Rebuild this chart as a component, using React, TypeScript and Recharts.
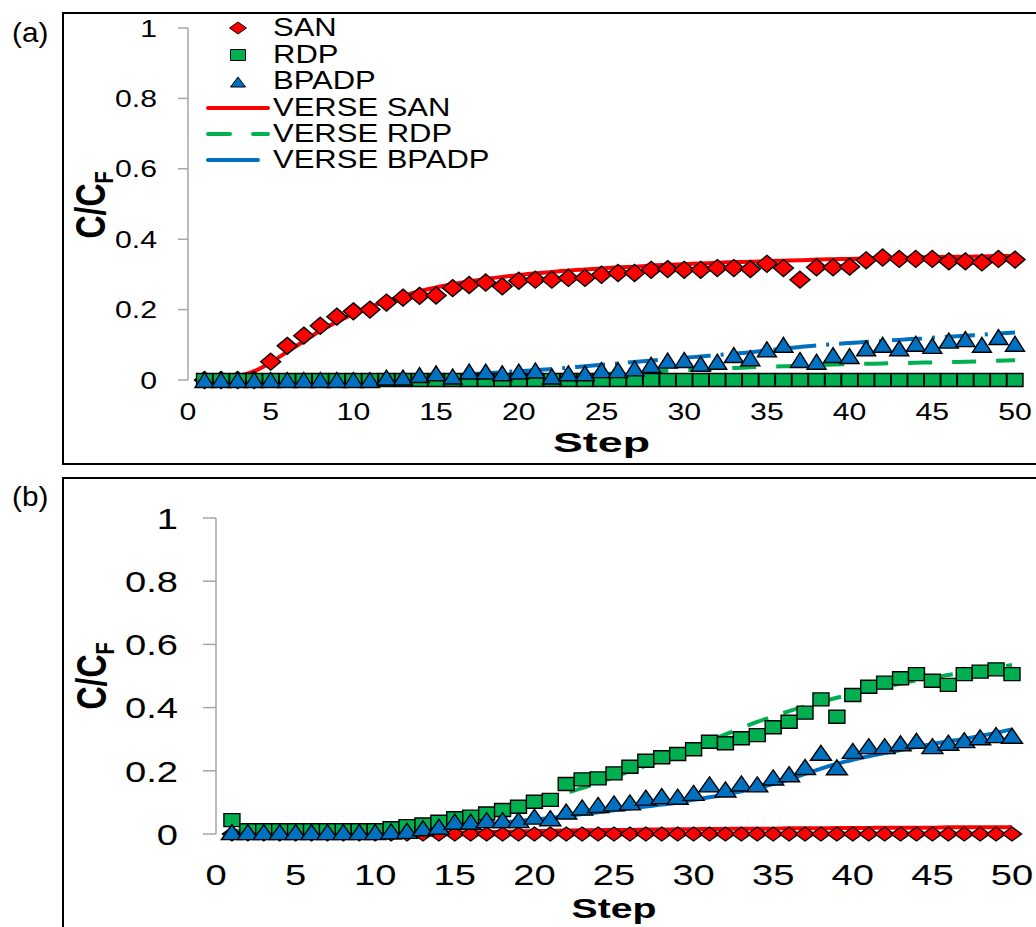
import React from 'react';
import { ComposedChart, Line, Scatter, XAxis, YAxis, Legend, Label } from 'recharts';

// ---------- data ----------
const STEPS = [1, 2, 3, 4, 5, 6, 7, 8, 9, 10, 11, 12, 13, 14, 15, 16, 17, 18, 19, 20, 21, 22, 23, 24, 25, 26, 27, 28, 29, 30, 31, 32, 33, 34, 35, 36, 37, 38, 39, 40, 41, 42, 43, 44, 45, 46, 47, 48, 49, 50];
const X_TICKS = [0, 5, 10, 15, 20, 25, 30, 35, 40, 45, 50];
const Y_TICKS = [0, 0.2, 0.4, 0.6, 0.8, 1];
const SERIES_NAMES = ['SAN', 'RDP', 'BPADP', 'VERSE SAN', 'VERSE RDP', 'VERSE BPADP'];
const PANEL_LABELS = ['(a)', '(b)'];
const X_TITLE = 'Step';

// Panel (a)
const A_SAN = [0, 0, 0, 0, 0.052, 0.097, 0.126, 0.154, 0.18, 0.195, 0.2, 0.22, 0.234, 0.239, 0.24, 0.261, 0.27, 0.277, 0.266, 0.282, 0.285, 0.285, 0.29, 0.29, 0.299, 0.304, 0.304, 0.313, 0.315, 0.313, 0.313, 0.318, 0.318, 0.315, 0.33, 0.318, 0.285, 0.32, 0.32, 0.322, 0.34, 0.348, 0.344, 0.344, 0.344, 0.337, 0.337, 0.334, 0.344, 0.342];
const A_RDP = [0, 0, 0, 0, 0, 0, 0, 0, 0, 0, 0, 0, 0, 0, 0, 0, 0, 0, 0, 0, 0, 0, 0, 0, 0, 0, 0, 0, 0, 0, 0, 0, 0, 0, 0, 0, 0, 0, 0, 0, 0, 0, 0, 0, 0, 0, 0, 0, 0, 0];
const A_BPADP = [0, 0, 0, 0, 0, 0, 0, 0, 0, 0, 0, 0.007, 0.007, 0.014, 0.019, 0.01, 0.024, 0.024, 0.019, 0.024, 0.027, 0.01, 0.019, 0.019, 0.028, 0.028, 0.033, 0.043, 0.055, 0.057, 0.046, 0.052, 0.071, 0.062, 0.087, 0.1, 0.057, 0.052, 0.071, 0.068, 0.09, 0.1, 0.09, 0.103, 0.097, 0.112, 0.116, 0.1, 0.122, 0.103];
const A_VERSE_SAN = [0, 0, 0.01, 0.025, 0.05, 0.08, 0.11, 0.14, 0.165, 0.188, 0.207, 0.224, 0.239, 0.252, 0.263, 0.272, 0.28, 0.287, 0.293, 0.298, 0.303, 0.307, 0.311, 0.314, 0.317, 0.32, 0.322, 0.325, 0.327, 0.329, 0.331, 0.333, 0.335, 0.336, 0.338, 0.339, 0.34, 0.342, 0.343, 0.344, 0.345, 0.346, 0.347, 0.348, 0.349, 0.35, 0.35, 0.351, 0.352, 0.352];
const A_VERSE_RDP = [0, 0, 0, 0, 0, 0, 0, 0, 0, 0, 0, 0, 0, 0, 0, 0, 0, 0, 0.004, 0.006, 0.008, 0.01, 0.012, 0.015, 0.017, 0.019, 0.021, 0.024, 0.026, 0.028, 0.03, 0.032, 0.034, 0.036, 0.038, 0.039, 0.041, 0.042, 0.044, 0.045, 0.046, 0.047, 0.048, 0.049, 0.05, 0.051, 0.052, 0.053, 0.055, 0.056];
const A_VERSE_BPADP = [0, 0, 0, 0, 0, 0, 0, 0, 0, 0, 0.002, 0.004, 0.006, 0.008, 0.01, 0.013, 0.016, 0.019, 0.022, 0.025, 0.028, 0.031, 0.035, 0.039, 0.043, 0.047, 0.051, 0.055, 0.059, 0.063, 0.067, 0.071, 0.075, 0.079, 0.084, 0.089, 0.094, 0.098, 0.102, 0.105, 0.108, 0.111, 0.114, 0.117, 0.12, 0.123, 0.126, 0.129, 0.132, 0.135];

// Panel (b)
const B_SAN = [0, 0, 0, 0, 0, 0, 0, 0, 0, 0, 0, 0, 0, 0, 0, 0, 0, 0, 0, 0, 0, 0, 0, 0, 0, 0, 0, 0, 0, 0, 0, 0, 0, 0, 0, 0, 0, 0, 0, 0, 0, 0, 0, 0, 0, 0, 0, 0, 0, 0];
const B_RDP = [0.044, 0.012, 0.012, 0.012, 0.012, 0.012, 0.012, 0.012, 0.012, 0.012, 0.018, 0.025, 0.03, 0.039, 0.05, 0.055, 0.065, 0.076, 0.086, 0.102, 0.108, 0.158, 0.173, 0.176, 0.192, 0.213, 0.232, 0.243, 0.253, 0.268, 0.292, 0.287, 0.303, 0.313, 0.338, 0.355, 0.384, 0.426, 0.371, 0.44, 0.466, 0.479, 0.493, 0.506, 0.485, 0.472, 0.506, 0.514, 0.521, 0.506];
const B_BPADP = [0.006, 0.006, 0.006, 0.006, 0.006, 0.006, 0.006, 0.006, 0.006, 0.006, 0.008, 0.01, 0.018, 0.023, 0.039, 0.039, 0.044, 0.044, 0.044, 0.055, 0.05, 0.071, 0.084, 0.092, 0.097, 0.1, 0.115, 0.12, 0.118, 0.13, 0.157, 0.141, 0.16, 0.157, 0.179, 0.189, 0.212, 0.257, 0.211, 0.263, 0.278, 0.278, 0.287, 0.295, 0.278, 0.289, 0.297, 0.306, 0.313, 0.311];
const B_VERSE_SAN = [0, 0, 0, 0, 0, 0, 0, 0, 0, 0, 0, 0, 0.002, 0.003, 0.004, 0.005, 0.006, 0.007, 0.008, 0.009, 0.01, 0.011, 0.012, 0.012, 0.013, 0.013, 0.014, 0.014, 0.015, 0.015, 0.016, 0.016, 0.017, 0.017, 0.017, 0.018, 0.018, 0.018, 0.019, 0.019, 0.019, 0.02, 0.02, 0.02, 0.02, 0.021, 0.021, 0.021, 0.021, 0.022];
const B_VERSE_RDP = [0.01, 0.01, 0.01, 0.01, 0.01, 0.01, 0.01, 0.01, 0.01, 0.01, 0.012, 0.016, 0.022, 0.03, 0.04, 0.05, 0.061, 0.073, 0.086, 0.1, 0.115, 0.13, 0.145, 0.162, 0.18, 0.198, 0.216, 0.235, 0.255, 0.275, 0.295, 0.315, 0.335, 0.355, 0.372, 0.389, 0.404, 0.418, 0.431, 0.443, 0.455, 0.466, 0.476, 0.486, 0.495, 0.503, 0.511, 0.519, 0.527, 0.535];
const B_VERSE_BPADP = [0.003, 0.003, 0.003, 0.003, 0.003, 0.003, 0.003, 0.003, 0.003, 0.003, 0.005, 0.008, 0.012, 0.016, 0.021, 0.026, 0.031, 0.036, 0.041, 0.046, 0.051, 0.057, 0.063, 0.069, 0.075, 0.081, 0.087, 0.093, 0.1, 0.108, 0.116, 0.125, 0.135, 0.146, 0.158, 0.173, 0.19, 0.207, 0.222, 0.235, 0.246, 0.256, 0.266, 0.276, 0.285, 0.293, 0.301, 0.31, 0.32, 0.331];

// ---------- styling ----------
const RED = '#ff0000';
const GREEN = '#00b050';
const BLUE = '#0070c0';
const AXIS_GRAY = '#a6a6a6';
const FONT = '"Liberation Sans", Arial, sans-serif';

type Row = { step: number; san: number; rdp: number; bpadp: number; vSan: number; vRdp: number; vBpadp: number };

function buildRows(san: number[], rdp: number[], bpadp: number[], vSan: number[], vRdp: number[], vBpadp: number[]): Row[] {
  return STEPS.map((s, i) => ({ step: s, san: san[i], rdp: rdp[i], bpadp: bpadp[i], vSan: vSan[i], vRdp: vRdp[i], vBpadp: vBpadp[i] }));
}

const rowsA = buildRows(A_SAN, A_RDP, A_BPADP, A_VERSE_SAN, A_VERSE_RDP, A_VERSE_BPADP);
const rowsB = buildRows(B_SAN, B_RDP, B_BPADP, B_VERSE_SAN, B_VERSE_RDP, B_VERSE_BPADP);

// ---------- marker shapes ----------
const diamondPath = (cx: number, cy: number, w: number, h: number) =>
  `M${cx},${cy - h / 2}L${cx + w / 2},${cy}L${cx},${cy + h / 2}L${cx - w / 2},${cy}Z`;
const squarePath = (cx: number, cy: number, w: number, h: number) =>
  `M${cx - w / 2},${cy - h / 2}h${w}v${h}h${-w}Z`;
const trianglePath = (cx: number, cy: number, w: number, h: number) =>
  `M${cx},${cy - h / 2}L${cx + w / 2},${cy + h / 2}L${cx - w / 2},${cy + h / 2}Z`;

const makeShape = (kind: 'diamond' | 'square' | 'triangle', color: string, w: number, h: number) => (p: any) => {
  const { cx, cy } = p;
  if (cx == null || cy == null) return <g />;
  const d = kind === 'diamond' ? diamondPath(cx, cy, w, h) : kind === 'square' ? squarePath(cx, cy, w, h) : trianglePath(cx, cy, w, h);
  return <path d={d} fill={color} stroke="#000" strokeWidth={1.4} strokeLinejoin="miter" />;
};

// ---------- ticks & labels ----------
const makeXTick = (fontSize: number, sx: number, dy: number) => (p: any) => (
  <g transform={`translate(${p.x},${p.y + dy}) scale(${sx},1)`}>
    <text x={0} y={0} textAnchor="middle" fontSize={fontSize} fontFamily={FONT} fill="#000">
      {String(p.payload.value)}
    </text>
  </g>
);

const makeYTick = (fontSize: number, sx: number) => (p: any) => (
  <g transform={`translate(${p.x},${p.y}) scale(${sx},1)`}>
    <text x={0} y={0} dy="0.36em" textAnchor="end" fontSize={fontSize} fontFamily={FONT} fill="#000">
      {String(p.payload.value)}
    </text>
  </g>
);

const makeYTitle = (baseX: number, dyc: number, fontSize: number, sx: number) => (props: any) => {
  const vb = props.viewBox || { x: 0, y: 0, width: 0, height: 0 };
  const x = vb.x + baseX;
  const y = vb.y + vb.height / 2 + dyc;
  return (
    <g transform={`translate(${x},${y}) scale(${sx},1) rotate(-90)`}>
      <text x={0} y={0} textAnchor="middle" fontSize={fontSize} fontWeight="bold" fontFamily={FONT} fill="#000">
        C/C
        <tspan fontSize={fontSize * 0.62} dy={fontSize * 0.2}>F</tspan>
      </text>
    </g>
  );
};

const makeXTitle = (baselineOffset: number, fontSize: number, width: number) => (props: any) => {
  const vb = props.viewBox || { x: 0, y: 0, width: 0, height: 0 };
  return (
    <text
      x={vb.x + vb.width / 2}
      y={vb.y + baselineOffset}
      textAnchor="middle"
      fontSize={fontSize}
      fontWeight="bold"
      fontFamily={FONT}
      fill="#000"
      textLength={width}
      lengthAdjust="spacingAndGlyphs"
    >
      {X_TITLE}
    </text>
  );
};

// ---------- legend (panel a) ----------
const LegendA = () => {
  const rows = [17, 44, 70, 97, 123, 149];
  const mx = 48;
  const tx = 83;
  const legendText = (i: number) => (
    <g key={'t' + i} transform={`translate(${tx},${rows[i] + 9}) scale(1.24,1)`}>
      <text x={0} y={0} fontSize={25} fontFamily={FONT} fill="#000">{SERIES_NAMES[i]}</text>
    </g>
  );
  return (
    <svg width={340} height={170} style={{ display: 'block' }}>
      <path d={diamondPath(mx, rows[0] + 1, 17, 12)} fill={RED} stroke="#000" strokeWidth={1} />
      <path d={squarePath(mx, rows[1] + 1, 15, 11)} fill={GREEN} stroke="#000" strokeWidth={1} />
      <path d={trianglePath(mx, rows[2] + 2, 15, 10)} fill={BLUE} stroke="#000" strokeWidth={1} />
      <line x1={18} x2={78} y1={rows[3] + 1} y2={rows[3] + 1} stroke={RED} strokeWidth={4} strokeLinecap="round" />
      <line x1={18} x2={78} y1={rows[4] + 1} y2={rows[4] + 1} stroke={GREEN} strokeWidth={4} strokeDasharray="22 23" strokeLinecap="round" />
      <line x1={18} x2={68} y1={rows[5] + 1} y2={rows[5] + 1} stroke={BLUE} strokeWidth={4} strokeLinecap="round" />
      {[0, 1, 2, 3, 4, 5].map(legendText)}
    </svg>
  );
};

// ---------- panels ----------
const PanelA = () => (
  <ComposedChart width={1036} height={465} data={rowsA} margin={{ top: 28, right: 21, bottom: 0, left: 0 }}>
    <XAxis
      dataKey="step"
      type="number"
      domain={[0, 50]}
      ticks={X_TICKS}
      axisLine={false}
      tickLine={false}
      tickSize={0}
      tickMargin={0}
      height={85}
      tick={makeXTick(24, 1.26, 40)}
      interval={0}
    >
      <Label content={makeXTitle(72, 28, 97)} />
    </XAxis>
    <YAxis
      type="number"
      domain={[0, 1]}
      ticks={Y_TICKS}
      width={188}
      axisLine={{ stroke: AXIS_GRAY, strokeWidth: 1.5 }}
      tickLine={{ stroke: AXIS_GRAY, strokeWidth: 1.5 }}
      tickSize={10}
      tickMargin={21}
      tick={makeYTick(24, 1.26)}
      interval={0}
    >
      <Label content={makeYTitle(105, 1, 32, 1.3)} />
    </YAxis>
    <Legend
      layout="horizontal"
      verticalAlign="middle"
      align="center"
      wrapperStyle={{ position: 'absolute', left: 190, top: 10, width: 340, height: 170 }}
      content={() => <LegendA />}
    />
    <Line dataKey="vSan" name={SERIES_NAMES[3]} type="monotone" stroke={RED} strokeWidth={4} dot={false} activeDot={false} isAnimationActive={false} />
    <Line dataKey="vRdp" name={SERIES_NAMES[4]} type="monotone" stroke={GREEN} strokeWidth={4} strokeDasharray="24 20" dot={false} activeDot={false} isAnimationActive={false} />
    <Line dataKey="vBpadp" name={SERIES_NAMES[5]} type="monotone" stroke={BLUE} strokeWidth={4} strokeDasharray="30 10 3 10" dot={false} activeDot={false} isAnimationActive={false} />
    <Scatter dataKey="san" name={SERIES_NAMES[0]} shape={makeShape('diamond', RED, 20, 17)} isAnimationActive={false} />
    <Scatter dataKey="rdp" name={SERIES_NAMES[1]} shape={makeShape('square', GREEN, 16, 13)} isAnimationActive={false} />
    <Scatter dataKey="bpadp" name={SERIES_NAMES[2]} shape={makeShape('triangle', BLUE, 19, 15)} isAnimationActive={false} />
  </ComposedChart>
);

const PanelB = () => (
  <ComposedChart width={1036} height={449} data={rowsB} margin={{ top: 40, right: 24, bottom: 0, left: 0 }}>
    <XAxis
      dataKey="step"
      type="number"
      domain={[0, 50]}
      ticks={X_TICKS}
      axisLine={false}
      tickLine={false}
      tickSize={0}
      tickMargin={0}
      height={93}
      tick={makeXTick(30, 1.27, 51)}
      interval={0}
    >
      <Label content={makeXTitle(84, 28, 85)} />
    </XAxis>
    <YAxis
      type="number"
      domain={[0, 1]}
      ticks={Y_TICKS}
      width={216}
      axisLine={{ stroke: AXIS_GRAY, strokeWidth: 1.5 }}
      tickLine={{ stroke: AXIS_GRAY, strokeWidth: 1.5 }}
      tickSize={13}
      tickMargin={25}
      tick={makeYTick(30, 1.27)}
      interval={0}
    >
      <Label content={makeYTitle(106, 0, 32, 1.3)} />
    </YAxis>
    <Line dataKey="vSan" name={SERIES_NAMES[3]} type="monotone" stroke={RED} strokeWidth={4} dot={false} activeDot={false} isAnimationActive={false} />
    <Line dataKey="vRdp" name={SERIES_NAMES[4]} type="monotone" stroke={GREEN} strokeWidth={4} strokeDasharray="22 16" dot={false} activeDot={false} isAnimationActive={false} />
    <Line dataKey="vBpadp" name={SERIES_NAMES[5]} type="monotone" stroke={BLUE} strokeWidth={4} dot={false} activeDot={false} isAnimationActive={false} />
    <Scatter dataKey="san" name={SERIES_NAMES[0]} shape={makeShape('diamond', RED, 19, 14)} isAnimationActive={false} />
    <Scatter dataKey="rdp" name={SERIES_NAMES[1]} shape={makeShape('square', GREEN, 16, 13)} isAnimationActive={false} />
    <Scatter dataKey="bpadp" name={SERIES_NAMES[2]} shape={makeShape('triangle', BLUE, 21, 15)} isAnimationActive={false} />
  </ComposedChart>
);

export default function App() {
  return (
    <div style={{ position: 'absolute', left: 0, top: 0, width: 1036, height: 927, overflow: 'hidden', background: '#fff' }}>
      <div style={{ position: 'absolute', left: 62, top: 12, width: 1100, height: 453, border: '2px solid #000', boxSizing: 'border-box' }} />
      <div style={{ position: 'absolute', left: 62, top: 477, width: 1100, height: 600, border: '2px solid #000', boxSizing: 'border-box' }} />
      <div style={{ position: 'absolute', left: 0, top: 0 }}>
        <PanelA />
      </div>
      <div style={{ position: 'absolute', left: 0, top: 478 }}>
        <PanelB />
      </div>
      <svg width={60} height={927} style={{ position: 'absolute', left: 0, top: 0 }}>
        <g transform="translate(12,42) scale(1.1,1)">
          <text x={0} y={0} fontSize={27} fontFamily={FONT} fill="#000">{PANEL_LABELS[0]}</text>
        </g>
        <g transform="translate(12,506) scale(1.1,1)">
          <text x={0} y={0} fontSize={27} fontFamily={FONT} fill="#000">{PANEL_LABELS[1]}</text>
        </g>
      </svg>
    </div>
  );
}
